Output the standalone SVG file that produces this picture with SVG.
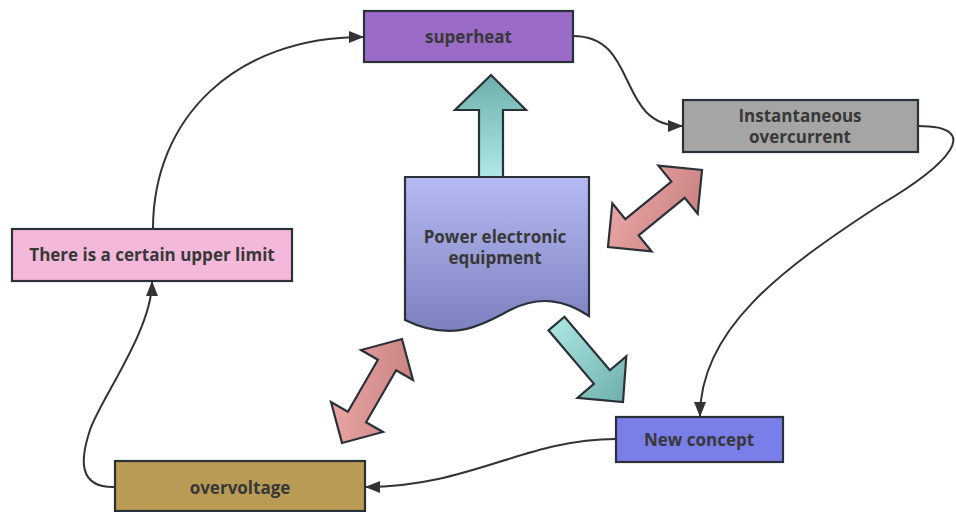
<svg xmlns="http://www.w3.org/2000/svg" width="956" height="512" viewBox="0 0 956 512">
<defs>
<style>
.box{stroke:#2b3139;stroke-width:2.2}
.lbl{font-family:"Open Sans","Liberation Sans",sans-serif;font-weight:700;font-size:17px;fill:#383838;text-anchor:middle}
.conn{fill:none;stroke:#333;stroke-width:2}
.shape{stroke:#2b3139;stroke-width:2.2;stroke-linejoin:miter}
</style>
<linearGradient id="gDoc" x1="0" y1="0" x2="0" y2="1">
<stop offset="0" stop-color="#b6baf2"/>
<stop offset="1" stop-color="#7c81bf"/>
</linearGradient>
<linearGradient id="gTealUp" x1="0" y1="0" x2="0" y2="1">
<stop offset="0" stop-color="#6eafab"/>
<stop offset="1" stop-color="#aee9e5"/>
</linearGradient>
<linearGradient id="gTealDn" x1="0" y1="0" x2="1" y2="1">
<stop offset="0" stop-color="#aee9e5"/>
<stop offset="1" stop-color="#6eafab"/>
</linearGradient>
<linearGradient id="gRed" x1="0" y1="0" x2="1" y2="1">
<stop offset="0" stop-color="#eeaaaa"/>
<stop offset="1" stop-color="#c57d7d"/>
</linearGradient>
<marker id="ah" markerUnits="userSpaceOnUse" markerWidth="15" markerHeight="12" viewBox="0 0 15 12" refX="14" refY="6" orient="auto">
<path d="M0,0 L15,6 L0,12 z" fill="#333"/>
</marker>
</defs>
<rect width="956" height="512" fill="#fff"/>

<g id="connectors">
<path class="conn" marker-end="url(#ah)" d="M153,229 C153,118 235,37 363,37"/>
<path class="conn" marker-end="url(#ah)" d="M573,36 C640,36 615,126 682,126"/>
<path class="conn" marker-end="url(#ah)" d="M918,126 C985,126 948,165 880,205 C780,270 700,330 700,416"/>
<path class="conn" marker-end="url(#ah)" d="M616,439 C525,439 470,487 366,487"/>
<path class="conn" marker-end="url(#ah)" d="M115,487 C78,488 80,460 90,430 C100,400 152,330 152,282"/>
</g>

<g id="arrow-up">
<polygon class="shape" fill="url(#gTealUp)" points="491,75 526,110 503,110 503,177 479,177 479,110 455,110"/>
</g>
<g id="arrow-down-right">
<polygon class="shape" fill="url(#gTealDn)" points="548.5,330.3 564.5,316.7 609.9,370.3 626.3,356.4 623,402 577.5,397.8 593.9,383.9"/>
</g>
<g id="arrow-double-right">
<polygon class="shape" fill="url(#gRed)" transform="translate(655,208.5) rotate(-39.3)" points="-60.75,0 -29.75,-31 -29.75,-10.5 29.75,-10.5 29.75,-31 60.75,0 29.75,31 29.75,10.5 -29.75,10.5 -29.75,31"/>
</g>
<g id="arrow-double-left">
<polygon class="shape" fill="url(#gRed)" transform="translate(372,391) rotate(-60)" points="-60,0 -30,-30 -30,-10.5 30,-10.5 30,-30 60,0 30,30 30,10.5 -30,10.5 -30,30"/>
</g>

<g id="power-electronic-equipment">
<path class="shape" fill="url(#gDoc)" d="M405,177 H589 V316 C565,300 540,295 510,310 C480,327 450,342 405,320 Z"/>
<text class="lbl" x="495" y="243">Power electronic</text>
<text class="lbl" x="495" y="264">equipment</text>
</g>

<g id="superheat">
<rect class="box" x="364" y="11" width="209" height="51" fill="#9b6bc8"/>
<text class="lbl" x="468.5" y="43">superheat</text>
</g>

<g id="instantaneous-overcurrent">
<rect class="box" x="683" y="100" width="235" height="52" fill="#a5a5a5"/>
<text class="lbl" x="800" y="122">Instantaneous</text>
<text class="lbl" x="800" y="143">overcurrent</text>
</g>

<g id="upper-limit">
<rect class="box" x="12" y="229" width="280" height="52" fill="#f4b8da"/>
<text class="lbl" x="152" y="261">There is a certain upper limit</text>
</g>

<g id="new-concept">
<rect class="box" x="616" y="417" width="167" height="45" fill="#7a7ee9"/>
<text class="lbl" x="699" y="446">New concept</text>
</g>

<g id="overvoltage">
<rect class="box" x="115" y="461" width="250" height="50" fill="#b99b55"/>
<text class="lbl" x="240" y="494">overvoltage</text>
</g>
</svg>
